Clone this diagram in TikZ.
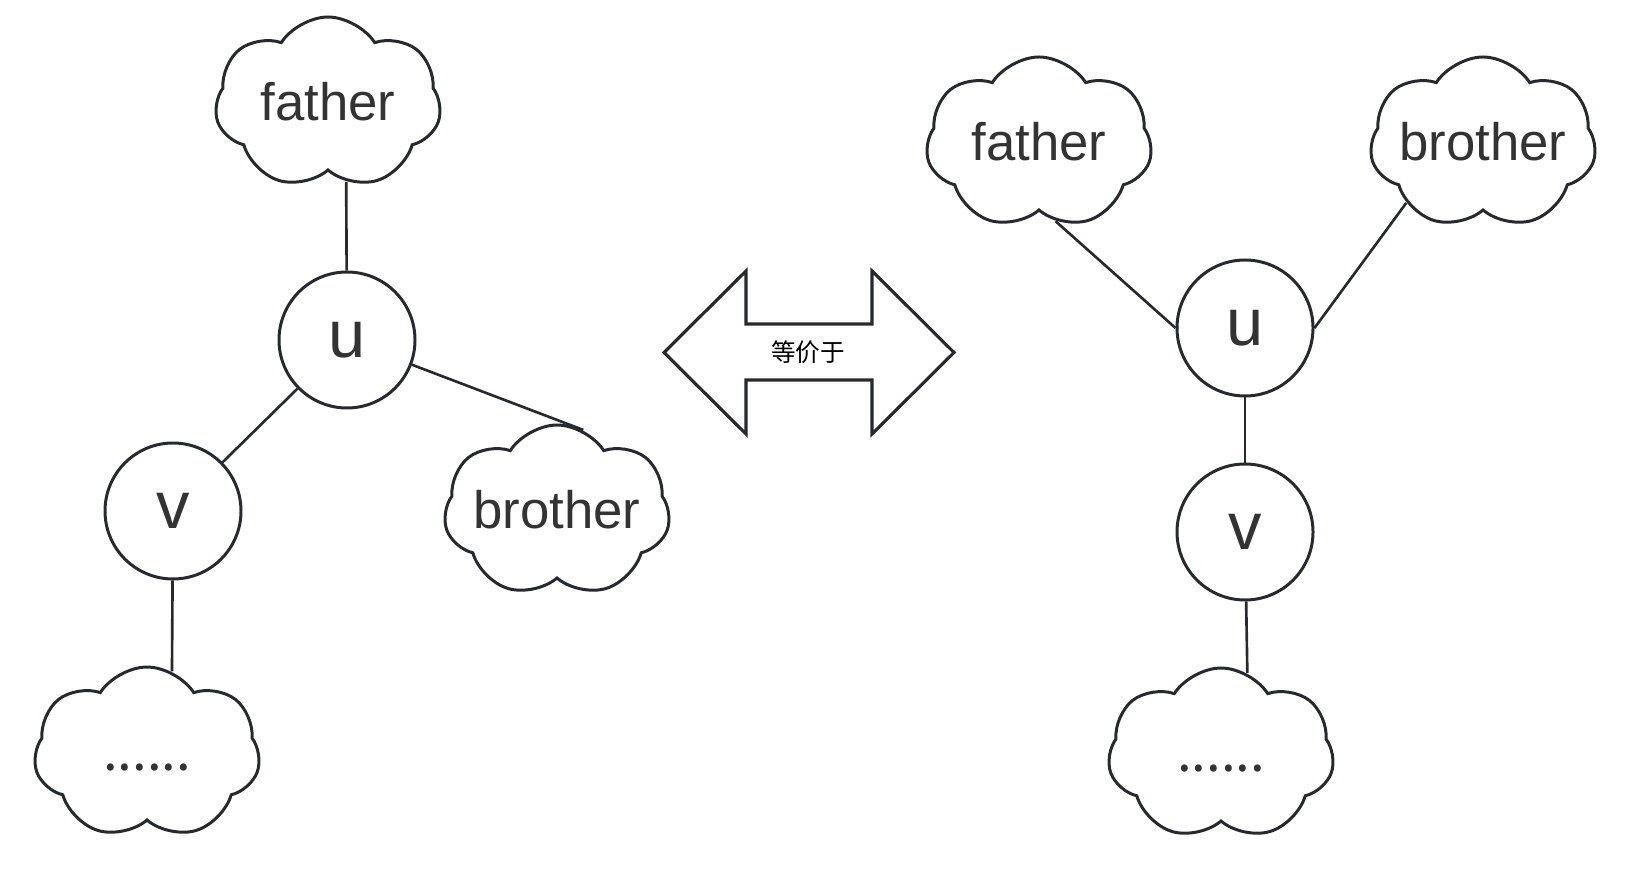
\documentclass[tikz,border=0pt]{standalone}
\usepackage{fontspec}
\setmainfont{Liberation Sans}
\newfontfamily\cjk{Noto Sans CJK SC}
\usepackage{tikz}
\usetikzlibrary{shapes.symbols, positioning}
\definecolor{linecolor}{RGB}{38,42,46}
\definecolor{textcolor}{RGB}{51,51,51}

\begin{document}
\begin{tikzpicture}[
    x=1cm, y=-1cm,
    puff/.style={draw=linecolor, line width=0.85pt, cloud, cloud puffs=7, cloud puff arc=115, cloud ignores aspect,
        minimum width=2.26cm, minimum height=1.72cm, inner sep=0pt, text=textcolor,
        font=\fontsize{15}{18}\selectfont, text height=1em, text depth=0pt},
    vertex/.style={draw=linecolor, line width=0.85pt, circle, minimum size=1.36cm, inner sep=0pt,
        text=textcolor, font=\fontsize{19}{22}\selectfont},
    edge/.style={draw=linecolor, line width=0.75pt},
    bigarrow/.style={draw=linecolor, line width=0.9pt, line join=miter}
]
    \useasboundingbox (0,0) rectangle (16.46,8.90);

    % Left tree
    \node[puff] (fa1) at (3.28,1.03) {father};
    \node[vertex] (u1) at (3.47,3.40) {u};
    \node[vertex] (v1) at (1.73,5.11) {v};
    \node[puff] (br1) at (5.57,5.11) {brother};
    \node[puff] (dt1) at (1.47,7.53) {\cjk ......};

    \draw[edge] (fa1.-77) -- (u1);
    \draw[edge] (u1) -- (v1);
    \draw[edge] (u1) -- (br1.72);
    \draw[edge] (v1) -- (dt1.73);

    % Double arrow in the middle
    \draw[bigarrow] (6.64,3.525) -- (7.46,2.71) -- (7.46,3.24) -- (8.72,3.24) -- (8.72,2.71)
        -- (9.54,3.525) -- (8.72,4.34) -- (8.72,3.80) -- (7.46,3.80) -- (7.46,4.34) -- cycle;
    \node[font=\cjk\fontsize{7}{8}\selectfont, text=black] (eq) at (8.08,3.52) {等价于};

    % Right tree
    \node[puff] (fa2) at (10.39,1.43) {father};
    \node[puff] (br2) at (14.83,1.43) {brother};
    \node[vertex] (u2) at (12.45,3.28) {u};
    \node[vertex] (v2) at (12.45,5.32) {v};
    \node[puff] (dt2) at (12.21,7.54) {\cjk ......};

    \draw[edge] (fa2.-78) -- (u2.west);
    \draw[edge] (u2.east) -- (br2.-142);
    \draw[edge] (u2) -- (v2);
    \draw[edge] (v2) -- (dt2.72);
\end{tikzpicture}
\end{document}
